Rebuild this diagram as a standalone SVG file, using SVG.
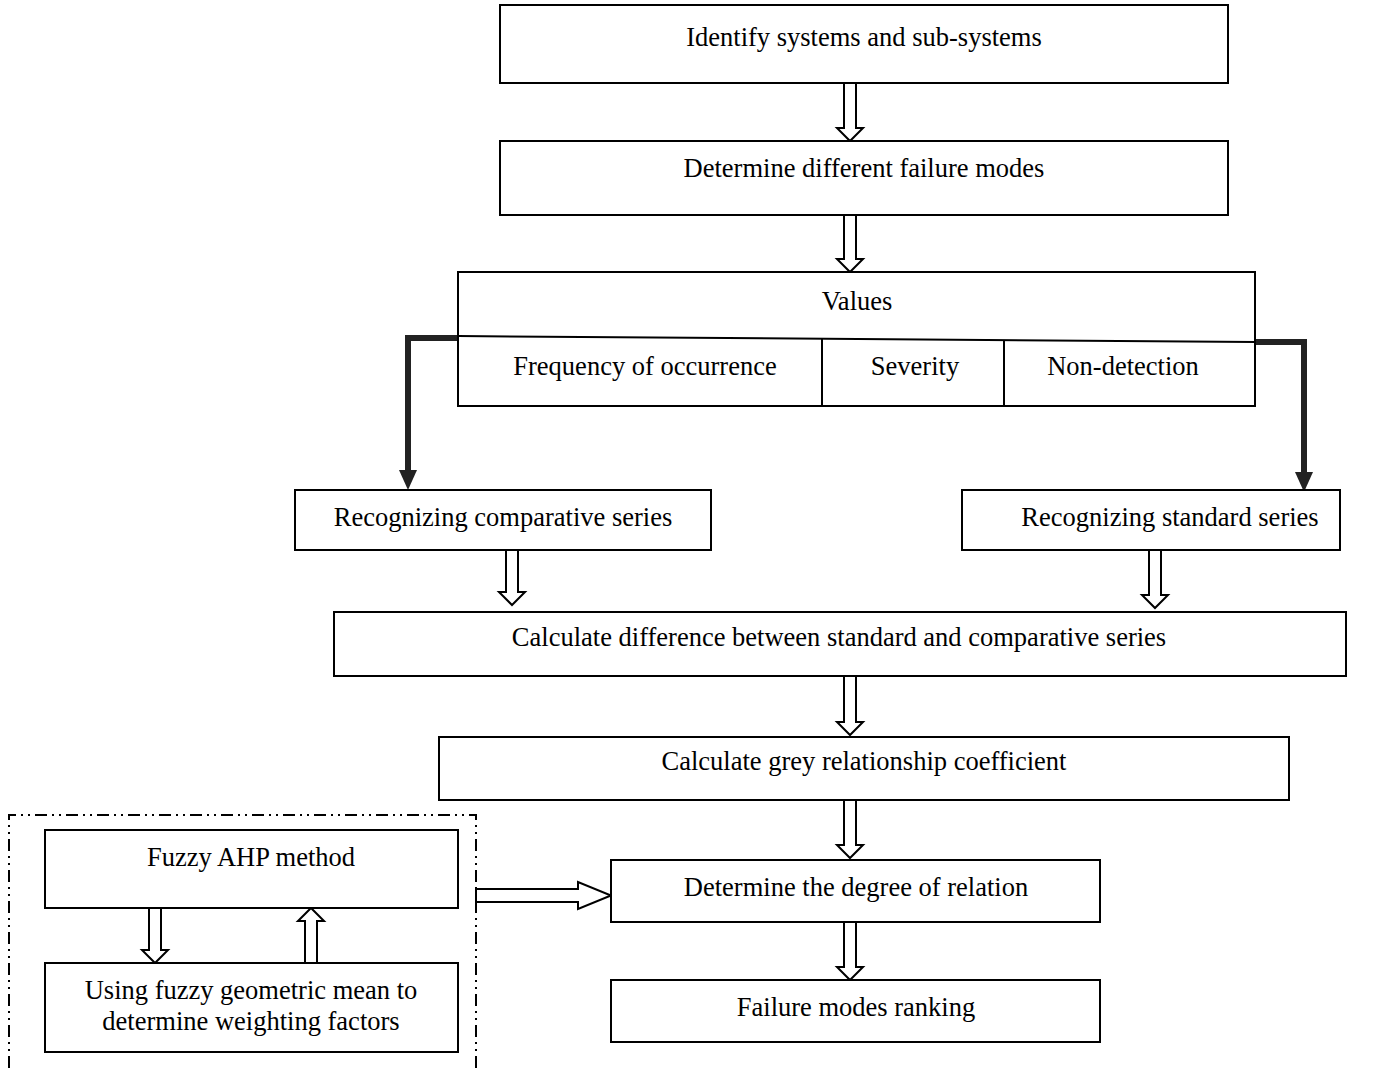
<svg xmlns="http://www.w3.org/2000/svg" width="1383" height="1068" viewBox="0 0 1383 1068">
<defs>
<style>
.box{fill:#fff;stroke:#000;stroke-width:2}
.t{font-family:"Liberation Serif","Times New Roman",serif;font-size:26.5px;fill:#000;text-anchor:middle}
.ha{fill:#fff;stroke:#000;stroke-width:2;stroke-linejoin:miter}
.thick{fill:none;stroke:#222;stroke-width:6}
.dd{fill:none;stroke:#000;stroke-width:2;stroke-dasharray:12 5 2 5 2 5}
</style>
</defs>
<rect width="1383" height="1068" fill="#fff"/>
<g id="group-fuzzy">
<path class="dd" d="M9,1068 V815 H476 V1068"/>
</g>
<g id="connectors">
<path class="ha" d="M844,83 V128 H837 L850,141 L863,128 H856 V83 Z"/>
<path class="ha" d="M844,215 V259 H837 L850,272 L863,259 H856 V215 Z"/>
<path class="ha" d="M506,550 V592 H499 L512,605 L525,592 H518 V550 Z"/>
<path class="ha" d="M1149,550 V595 H1142 L1155,608 L1168,595 H1161 V550 Z"/>
<path class="ha" d="M844,676 V722 H837 L850,735 L863,722 H856 V676 Z"/>
<path class="ha" d="M844,800 V845 H837 L850,858 L863,845 H856 V800 Z"/>
<path class="ha" d="M844,922 V967 H837 L850,980 L863,967 H856 V922 Z"/>
<path class="ha" d="M149,908 V950 H142 L155,963 L168,950 H161 V908 Z"/>
<path class="ha" d="M305,963 V921 H298 L311,908 L324,921 H317 V963 Z"/>
<path class="ha" d="M476,889 H578 V882 L611,895.5 L578,909 V902 H476 Z"/>
<path class="thick" d="M458,338 H408 V472"/>
<polygon points="399,470 417,470 408,490" fill="#222"/>
<path class="thick" d="M1255,342 H1304 V474"/>
<polygon points="1295,472 1313,472 1304,492" fill="#222"/>
</g>
<g id="n1"><rect class="box" x="500" y="5" width="728" height="78"/><text class="t" x="864" y="46">Identify systems and sub-systems</text></g>
<g id="n2"><rect class="box" x="500" y="141" width="728" height="74"/><text class="t" x="864" y="177">Determine different failure modes</text></g>
<g id="n3"><rect class="box" x="458" y="272" width="797" height="134"/>
<line x1="458" y1="336" x2="1255" y2="342" stroke="#000" stroke-width="2"/>
<line x1="822" y1="339" x2="822" y2="406" stroke="#000" stroke-width="2"/>
<line x1="1004" y1="340" x2="1004" y2="406" stroke="#000" stroke-width="2"/>
<text class="t" x="857" y="310">Values</text>
<text class="t" x="645" y="375">Frequency of occurrence</text>
<text class="t" x="915" y="375">Severity</text>
<text class="t" x="1123" y="375">Non-detection</text>
</g>
<g id="n4"><rect class="box" x="295" y="490" width="416" height="60"/><text class="t" x="503" y="526">Recognizing comparative series</text></g>
<g id="n5"><rect class="box" x="962" y="490" width="378" height="60"/><text class="t" x="1170" y="526">Recognizing standard series</text></g>
<g id="n6"><rect class="box" x="334" y="612" width="1012" height="64"/><text class="t" x="839" y="646">Calculate difference between standard and comparative series</text></g>
<g id="n7"><rect class="box" x="439" y="737" width="850" height="63"/><text class="t" x="864" y="770">Calculate grey relationship coefficient</text></g>
<g id="n8"><rect class="box" x="611" y="860" width="489" height="62"/><text class="t" x="856" y="896">Determine the degree of relation</text></g>
<g id="n9"><rect class="box" x="611" y="980" width="489" height="62"/><text class="t" x="856" y="1016">Failure modes ranking</text></g>
<g id="n10"><rect class="box" x="45" y="830" width="413" height="78"/><text class="t" x="251" y="866">Fuzzy AHP method</text></g>
<g id="n11"><rect class="box" x="45" y="963" width="413" height="89"/><text class="t" x="251" y="999">Using fuzzy geometric mean to</text><text class="t" x="251" y="1030">determine weighting factors</text></g>
</svg>
